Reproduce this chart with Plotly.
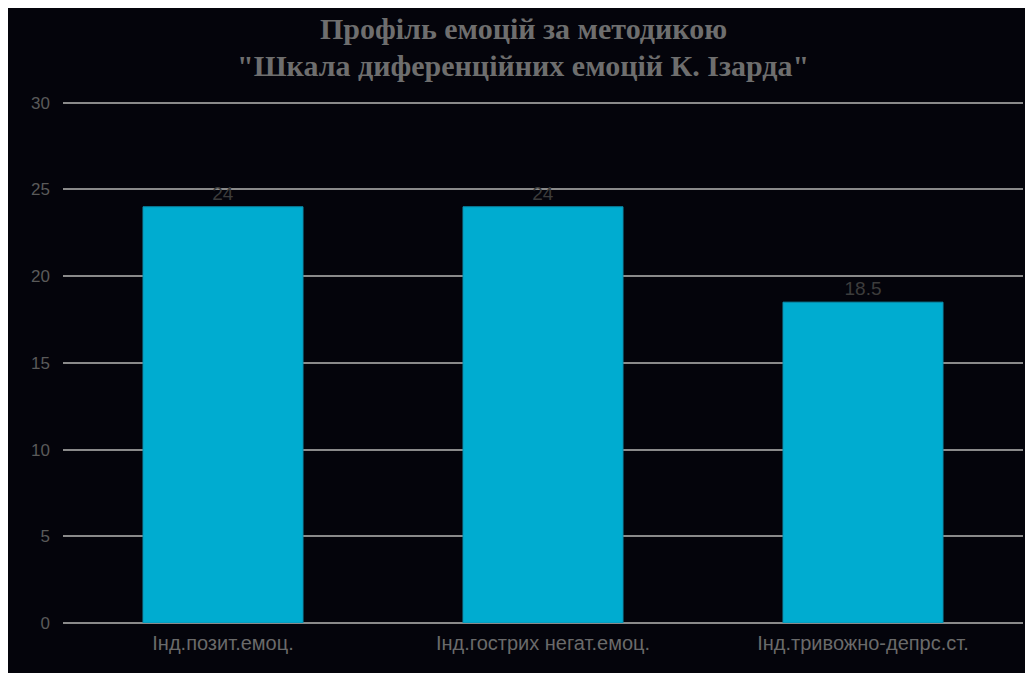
import plotly.graph_objects as go

categories = ["Інд.позит.емоц.", "Інд.гострих негат.емоц.", "Інд.тривожно-депрс.ст."]
values = [24, 24, 18.5]
value_labels = ["24", "24", "18.5"]
title_lines = ["Профіль емоцій за методикою", "\"Шкала диференційних емоцій К. Ізарда\""]
y_ticks = [0, 5, 10, 15, 20, 25, 30]

BG = "#04040b"
W, H = 1033, 673
L, R, T, B = 55, 18, 93, 58
PH = H - T - B


def py(fy):
    # figure pixel y -> paper y
    return (H - B - fy) / PH


def px(fx):
    return (fx - L) / (W - L - R)


fig = go.Figure()
fig.add_trace(go.Bar(
    x=categories,
    y=values,
    text=value_labels,
    textposition="outside",
    cliponaxis=False,
    textfont=dict(family="Liberation Sans, Arial, sans-serif", size=19, color="#3c3c3c"),
    marker=dict(color="#00acd0", line=dict(color="#0a8fae", width=1)),
    width=0.5,
))

annotations = []
for line, fy in zip(title_lines, [21, 57]):
    annotations.append(dict(
        text=line, xref="paper", yref="paper",
        x=px(515), y=py(fy), xanchor="center", yanchor="middle",
        showarrow=False,
        font=dict(family="Liberation Serif, Times New Roman, serif", size=30, color="#6e6e6e", weight="bold"),
    ))

fig.update_layout(
    width=W,
    height=H,
    margin=dict(l=L, r=R, t=T, b=B),
    paper_bgcolor=BG,
    plot_bgcolor=BG,
    showlegend=False,
    bargap=0.5,
    annotations=annotations,
)

fig.update_xaxes(
    showgrid=False,
    showline=False,
    ticks="",
    tickfont=dict(family="Liberation Sans, Arial, sans-serif", size=20, color="#6a6a6a"),
    ticklabelstandoff=6,
)
fig.update_yaxes(
    range=[0, 30.1],
    tickvals=y_ticks,
    showgrid=True,
    gridcolor="#8a8a8a",
    gridwidth=2,
    zeroline=True,
    zerolinecolor="#8a8a8a",
    zerolinewidth=2,
    showline=False,
    ticks="",
    tickfont=dict(family="Liberation Sans, Arial, sans-serif", size=17, color="#5a5a5a"),
    ticklabelstandoff=12,
)

fig.write_html("out.html")
